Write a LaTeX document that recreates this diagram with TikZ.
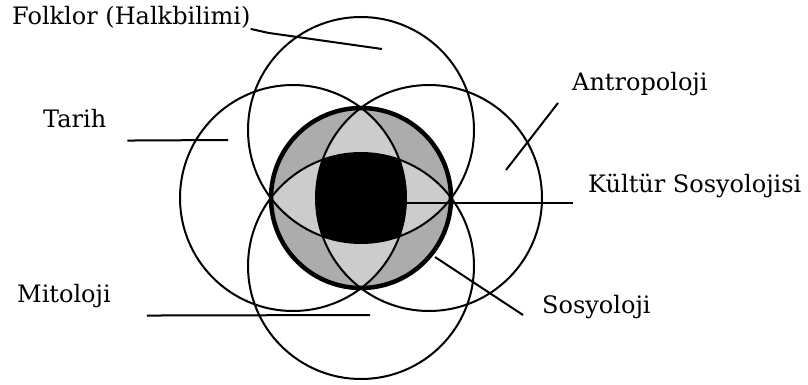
\documentclass[tikz,border=0pt]{standalone}
\usepackage{fontspec}
\setmainfont{DejaVu Serif}
\begin{document}
\begin{tikzpicture}[x=1pt,y=-1pt,
	lbl/.style={inner sep=0pt,anchor=base west,font=\fontsize{24}{28}\selectfont},
	ring/.style={line width=2pt},
	leader/.style={line width=2pt}]
	\useasboundingbox (0,0) rectangle (808,385);
	\def\rbig{113}
	\def\rmid{90}
	\coordinate (O) at (361,198);
	\coordinate (T) at (361,130);
	\coordinate (B) at (361,266);
	\coordinate (L) at (293,198);
	\coordinate (R) at (429,198);
	% shaded middle disc
	\fill[gray!65] (O) circle (\rmid);
	\foreach \a/\b/\c in {T/L/R, B/L/R, L/T/B, R/T/B}{
		\begin{scope}
		\clip (O) circle (\rmid);
		\clip (\a) circle (\rbig);
		\clip (\b) circle (\rbig);
		\fill[gray!40] (\c) circle (\rbig);
		\end{scope}
	}
	% black core
	\begin{scope}
	\clip (T) circle (\rbig);
	\clip (B) circle (\rbig);
	\clip (L) circle (\rbig);
	\fill[black] (R) circle (\rbig);
	\end{scope}
	\foreach \p in {T,B,L,R}
		\draw[ring] (\p) circle (\rbig);
	\draw[line width=4.5pt] (O) circle (\rmid);
	% labels
	\node[lbl] (folklor) at (12,25) {Folklor (Halkbilimi)};
	\node[lbl] (tarih) at (43,128) {Tarih};
	\node[lbl] (antro) at (572,91) {Antropoloji};
	\node[lbl] (kultur) at (588,192) {Kültür Sosyolojisi};
	\node[lbl] (mito) at (17,302) {Mitoloji};
	\node[lbl] (sosyo) at (542,313) {Sosyoloji};
	\coordinate (folklor-end) at (382,49);
	\coordinate (tarih-end) at (228,140);
	\coordinate (antro-end) at (506,170);
	\coordinate (core-e) at (406,203);
	\coordinate (mito-end) at (370,315);
	\coordinate (sosyo-end) at (435,257);
	% leaders
	\draw[leader] (folklor.south east) -- ++(18,4) -- (folklor-end);
	\draw[leader] ([xshift=21pt,yshift=-12pt]tarih.south east) -- (tarih-end);
	\draw[leader] ([xshift=-14pt,yshift=-12pt]antro.base west) -- (antro-end);
	\draw[leader] (core-e) -- ([xshift=-15pt,yshift=-11pt]kultur.base west);
	\draw[leader] ([xshift=36pt,yshift=-8pt]mito.south east) -- (mito-end);
	\draw[leader] ([xshift=-19pt,yshift=-2pt]sosyo.base west) -- (sosyo-end);
\end{tikzpicture}
\end{document}
